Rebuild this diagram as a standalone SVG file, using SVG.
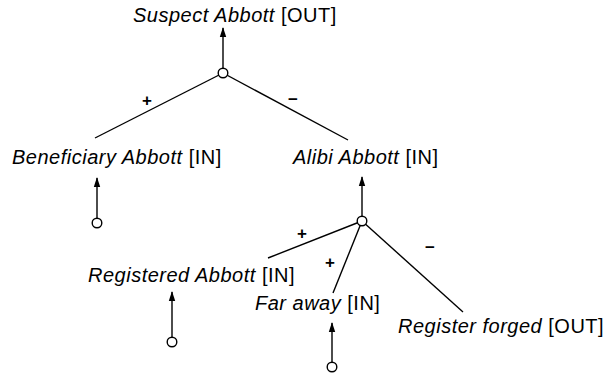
<svg xmlns="http://www.w3.org/2000/svg" width="615" height="374" viewBox="0 0 615 374">
<style>
.lbl{font-family:"Liberation Sans",Arial,sans-serif;font-size:20px;letter-spacing:0.5px;fill:#000}
.it{font-style:italic}
.sign{font-family:"Liberation Sans",Arial,sans-serif;font-size:17px;font-weight:bold;fill:#000;text-anchor:middle}
.ln{stroke:#000;stroke-width:1.4;fill:none}
.arr{stroke:#000;stroke-width:1.4;fill:none;marker-end:url(#ah)}
.jn{fill:#fff;stroke:#000;stroke-width:1.4}
</style>
<defs>
<marker id="ah" viewBox="0 0 10 10" refX="9" refY="5" markerWidth="10" markerHeight="10" markerUnits="userSpaceOnUse" orient="auto">
<path d="M0,1.8 L10,5 L0,8.2 Z" fill="#000"/>
</marker>
</defs>
<rect width="615" height="374" fill="#fff"/>
<g id="connectors">
<line class="arr" x1="223" y1="68" x2="223" y2="28"/>
<line class="ln" x1="223" y1="73" x2="95" y2="138"/>
<line class="ln" x1="223" y1="73" x2="348" y2="140"/>
<line class="arr" x1="97" y1="218" x2="97" y2="178"/>
<line class="arr" x1="362" y1="216" x2="362" y2="177"/>
<line class="ln" x1="362" y1="221" x2="268" y2="258"/>
<line class="ln" x1="362" y1="221" x2="333" y2="293"/>
<line class="ln" x1="362" y1="221" x2="463" y2="312"/>
<line class="arr" x1="172" y1="337" x2="172" y2="292"/>
<line class="arr" x1="332" y1="362" x2="332" y2="323"/>
<circle class="jn" cx="223" cy="73" r="4.8"/>
<circle class="jn" cx="97" cy="223" r="4.8"/>
<circle class="jn" cx="362" cy="221" r="4.8"/>
<circle class="jn" cx="172" cy="342" r="4.8"/>
<circle class="jn" cx="332" cy="367" r="4.8"/>
<text class="sign" x="147" y="106">+</text>
<text class="sign" x="293" y="105">−</text>
<text class="sign" x="302" y="239">+</text>
<text class="sign" x="330" y="268">+</text>
<text class="sign" x="430" y="253">−</text>
</g>
<g id="suspect"><text class="lbl" x="133" y="21.5"><tspan class="it">Suspect Abbott</tspan> [OUT]</text></g>
<g id="beneficiary"><text class="lbl" x="12" y="164"><tspan class="it">Beneficiary Abbott</tspan> [IN]</text></g>
<g id="alibi"><text class="lbl" x="293" y="164"><tspan class="it">Alibi Abbott</tspan> [IN]</text></g>
<g id="registered"><text class="lbl" x="88" y="282"><tspan class="it">Registered Abbott</tspan> [IN]</text></g>
<g id="faraway"><text class="lbl" x="255" y="310"><tspan class="it">Far away</tspan> [IN]</text></g>
<g id="forged"><text class="lbl" x="398" y="333"><tspan class="it">Register forged</tspan> [OUT]</text></g>
</svg>
